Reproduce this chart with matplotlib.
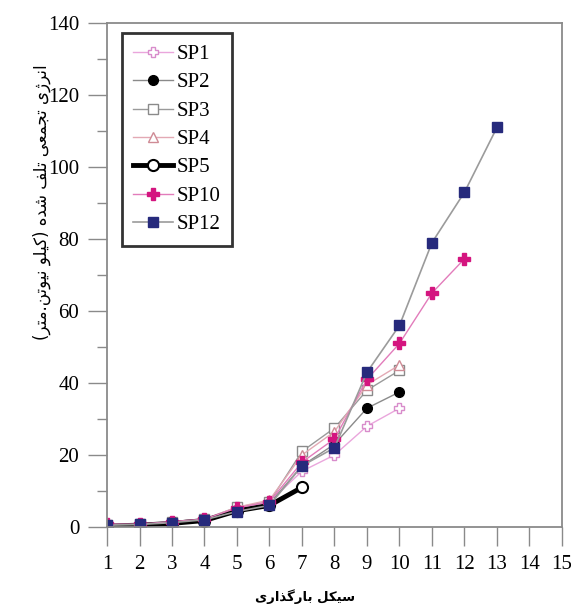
import matplotlib
matplotlib.use("Agg")
import matplotlib.pyplot as plt
from matplotlib.ticker import MultipleLocator

# data
cycles = list(range(1, 14))
sp1 = [0.5, 0.7, 1.3, 2.0, 5.0, 7.0, 15.5, 20.0, 28.0, 33.0]
sp2 = [0.5, 0.7, 1.3, 2.0, 5.0, 6.5, 17.0, 23.0, 33.0, 37.5]
sp3 = [0.5, 0.7, 1.5, 2.2, 5.5, 7.0, 21.0, 27.5, 38.0, 43.5]
sp4 = [0.5, 0.7, 1.5, 2.2, 5.5, 7.5, 20.0, 26.5, 39.5, 45.0]
sp5 = [0.3, 0.5, 1.0, 1.8, 4.5, 6.0, 11.0]
sp10 = [0.8, 0.8, 1.5, 2.2, 5.3, 7.0, 18.0, 24.5, 41.0, 51.0, 65.0, 74.5]
sp12 = [0.5, 0.7, 1.2, 2.0, 4.3, 6.0, 17.0, 22.0, 43.0, 56.0, 79.0, 93.0, 111.0]

x_ticks = list(range(1, 16))
y_label = "انرژی تجمعی تلف شده (کیلو نیوتن.متر)"
x_label = "سیکل بارگذاری"

# arabic presentation forms: isolated, final, initial, medial
FORMS = {
    "ا": ("\uFE8D", "\uFE8E", None, None),
    "ب": ("\uFE8F", "\uFE90", "\uFE91", "\uFE92"),
    "ت": ("\uFE95", "\uFE96", "\uFE97", "\uFE98"),
    "ج": ("\uFE9D", "\uFE9E", "\uFE9F", "\uFEA0"),
    "د": ("\uFEA9", "\uFEAA", None, None),
    "ذ": ("\uFEAB", "\uFEAC", None, None),
    "ر": ("\uFEAD", "\uFEAE", None, None),
    "ژ": ("\uFB8A", "\uFB8B", None, None),
    "س": ("\uFEB1", "\uFEB2", "\uFEB3", "\uFEB4"),
    "ش": ("\uFEB5", "\uFEB6", "\uFEB7", "\uFEB8"),
    "ع": ("\uFEC9", "\uFECA", "\uFECB", "\uFECC"),
    "ف": ("\uFED1", "\uFED2", "\uFED3", "\uFED4"),
    "ک": ("\uFB8E", "\uFB8F", "\uFB90", "\uFB91"),
    "گ": ("\uFB92", "\uFB93", "\uFB94", "\uFB95"),
    "ل": ("\uFEDD", "\uFEDE", "\uFEDF", "\uFEE0"),
    "م": ("\uFEE1", "\uFEE2", "\uFEE3", "\uFEE4"),
    "ن": ("\uFEE5", "\uFEE6", "\uFEE7", "\uFEE8"),
    "ه": ("\uFEE9", "\uFEEA", "\uFEEB", "\uFEEC"),
    "و": ("\uFEED", "\uFEEE", None, None),
    "ی": ("\uFBFC", "\uFBFD", "\uFBFE", "\uFBFF"),
}


def shape_rtl(text):
    out = []
    for i, ch in enumerate(text):
        if ch not in FORMS:
            out.append(ch)
            continue
        prev = text[i - 1] if i > 0 else ""
        nxt = text[i + 1] if i + 1 < len(text) else ""
        joins_prev = prev in FORMS and FORMS[prev][2] is not None
        joins_next = FORMS[ch][2] is not None and nxt in FORMS
        iso, fin, ini, med = FORMS[ch]
        if joins_prev and joins_next:
            out.append(med)
        elif joins_prev:
            out.append(fin)
        elif joins_next:
            out.append(ini)
        else:
            out.append(iso)
    mirror = {"(": ")", ")": "("}
    return "".join(mirror.get(c, c) for c in reversed(out))


plt.rcParams["font.family"] = ["Liberation Serif", "DejaVu Sans"]

fig = plt.figure(figsize=(5.71, 6.14), dpi=100)
ax = fig.add_axes([0.1874, 0.1417, 0.7968, 0.8208])

ax.plot(cycles[:len(sp1)], sp1, color="#eaa6dc", lw=1, marker="P", ms=7,
        mfc="white", mec="#d88ccb", mew=1, label="SP1")
ax.plot(cycles[:len(sp2)], sp2, color="#8a8a8a", lw=1, marker="o", ms=7,
        mfc="black", mec="black", label="SP2")
ax.plot(cycles[:len(sp3)], sp3, color="#9a9a9a", lw=1, marker="s", ms=7,
        mfc="white", mec="#8a8a8a", mew=1, label="SP3")
ax.plot(cycles[:len(sp4)], sp4, color="#e3a9b4", lw=1, marker="^", ms=7,
        mfc="white", mec="#cf8b95", mew=1, label="SP4")
ax.plot(cycles[:len(sp5)], sp5, color="black", lw=3.5, marker="o", ms=8,
        mfc="white", mec="black", mew=1.5, label="SP5")
ax.plot(cycles[:len(sp10)], sp10, color="#e27cbb", lw=1, marker="P", ms=8,
        mfc="#d4157f", mec="#d4157f", label="SP10")
ax.plot(cycles[:len(sp12)], sp12, color="#9b9b9b", lw=1.2, marker="s", ms=6.5,
        mfc="#262a7c", mec="#262a7c", label="SP12")

ax.set_xlim(1, 15)
ax.set_ylim(0, 140)
ax.set_xticks(x_ticks)
ax.yaxis.set_major_locator(MultipleLocator(20))
ax.yaxis.set_minor_locator(MultipleLocator(10))
ax.tick_params(axis="both", which="major", direction="out", length=14, width=1,
               color="#8a8a8a", labelsize=15, pad=6)
ax.tick_params(axis="y", which="minor", direction="out", length=7, width=1,
               color="#8a8a8a")
for side in ["left", "bottom", "top", "right"]:
    ax.spines[side].set_color("#8a8a8a")
    ax.spines[side].set_linewidth(1.3)

leg = ax.legend(loc="upper left", bbox_to_anchor=(0.033, 0.98), borderaxespad=0,
                fontsize=15, frameon=True, fancybox=False, edgecolor="black",
                handlelength=1.9, handletextpad=0.15, labelspacing=0.42,
                borderpad=0.55)
leg.get_frame().set_linewidth(2)

fig.text(42 / 571, 1 - 202 / 614, shape_rtl(y_label), rotation=90,
         ha="center", va="center", fontsize=12, family="DejaVu Sans")
fig.text(305 / 571, 1 - 597 / 614, shape_rtl(x_label), ha="center",
         va="center", fontsize=9.5, fontweight="bold", family="DejaVu Sans")

fig.savefig("out.png", dpi=100)
